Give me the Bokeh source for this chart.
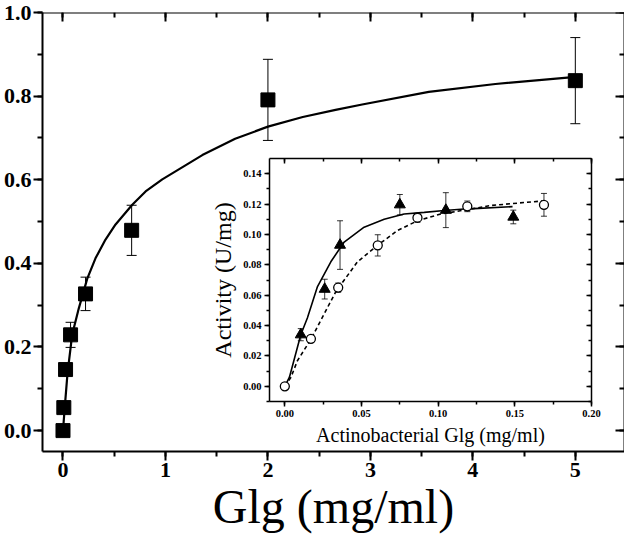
from bokeh.plotting import figure
from bokeh.models import (ColumnDataSource, Whisker, TeeHead, LinearAxis,
                          SingleIntervalTicker, NumeralTickFormatter, Range1d,
                          CustomJSTickFormatter)
from bokeh.embed import file_html
from bokeh.resources import INLINE

# ---------------- main panel data ----------------
glg_conc = [0.0, 0.008, 0.025, 0.074, 0.22, 0.67, 2.0, 5.0]
activity = [0.0, 0.055, 0.146, 0.229, 0.327, 0.479, 0.791, 0.837]
activity_err = [0.0, 0.006, 0.008, 0.03, 0.04, 0.06, 0.097, 0.103]

fit_x = [0.0, 0.018, 0.044, 0.09, 0.155, 0.236, 0.317, 0.415, 0.513, 0.676, 0.806,
         0.969, 1.36, 1.68, 2.0, 2.34, 2.66, 2.92, 3.57, 4.22, 4.95]
fit_y = [0.0, 0.058, 0.137, 0.230, 0.293, 0.363, 0.412, 0.457, 0.493, 0.540, 0.572,
         0.601, 0.659, 0.698, 0.727, 0.750, 0.767, 0.780, 0.810, 0.829, 0.845]

# ---------------- inset data ----------------
tri_x = [0.0104, 0.026, 0.036, 0.075, 0.105, 0.149]
tri_y = [0.034, 0.064, 0.093, 0.1196, 0.116, 0.1115]
tri_err = [0.004, 0.0065, 0.016, 0.0067, 0.0115, 0.0045]

circ_x = [0.0, 0.017, 0.0348, 0.0606, 0.0865, 0.119, 0.169]
circ_y = [0.0, 0.0313, 0.065, 0.0928, 0.111, 0.1185, 0.1195]
circ_err = [0.0, 0.002, 0.003, 0.007, 0.003, 0.0035, 0.0075]

solid_x = [0.0, 0.003, 0.0104, 0.0147, 0.0213, 0.030, 0.0387, 0.0517, 0.0648,
           0.0778, 0.0909, 0.104, 0.117, 0.1235, 0.1485]
solid_y = [0.0, 0.006, 0.034, 0.045, 0.0657, 0.082, 0.095, 0.1048, 0.110,
           0.1135, 0.1145, 0.1158, 0.1167, 0.117, 0.1183]

dash_x = [0.0, 0.004, 0.0082, 0.017, 0.0333, 0.0474, 0.0604, 0.0735, 0.0865,
          0.1018, 0.117, 0.134, 0.156, 0.17]
dash_y = [0.0, 0.006, 0.0168, 0.031, 0.0624, 0.082, 0.0928, 0.1026, 0.109,
          0.1135, 0.116, 0.119, 0.121, 0.1222]

SERIF = "Liberation Serif"

# ---------------- layout (pixels) ----------------
FRAME_W, FRAME_H = 582, 439
TOP_BORDER = 12
X0, X1 = -0.2, 5.48
Y0, Y1 = -0.05, 1.0
# inset box inside the main frame (pixels from frame left / top)
IN_L, IN_R, IN_T, IN_B = 227, 549, 146, 389
IX0, IX1 = -0.01, 0.2
IY0, IY1 = -0.01, 0.15

ixs = (IX1 - IX0) / (IN_R - IN_L)
iys = (IY1 - IY0) / (IN_B - IN_T)
ix_range = Range1d(IX0 - IN_L * ixs, IX1 + (FRAME_W - IN_R) * ixs)
iy_range = Range1d(IY0 - (FRAME_H - IN_B) * iys, IY1 + IN_T * iys)

# ================= figure =================
p = figure(frame_width=FRAME_W, frame_height=FRAME_H,
           x_range=Range1d(X0, X1), y_range=Range1d(Y0, Y1),
           output_backend="svg", toolbar_location=None,
           min_border_left=39, min_border_right=0, min_border_top=TOP_BORDER,
           min_border_bottom=0)
p.extra_x_ranges = {"ix": ix_range}
p.extra_y_ranges = {"iy": iy_range}
p.xgrid.visible = False
p.ygrid.visible = False
p.outline_line_color = None
p.background_fill_color = "white"
p.border_fill_color = "white"

blank = CustomJSTickFormatter(code="return ''")

xt = SingleIntervalTicker(interval=1, num_minor_ticks=2)
yt = SingleIntervalTicker(interval=0.2, num_minor_ticks=2)

xa = p.xaxis[0]
ya = p.yaxis[0]
xa.ticker = xt
xa.formatter = NumeralTickFormatter(format="0")
xa.axis_label = "Glg (mg/ml)"
ya.ticker = yt
ya.formatter = NumeralTickFormatter(format="0.0")

for ax in (xa, ya):
    ax.axis_line_width = 2
    ax.axis_line_color = "black"
    ax.major_tick_line_width = 2
    ax.minor_tick_line_width = 2
    ax.major_tick_out = 9
    ax.major_tick_in = 0
    ax.minor_tick_out = 5
    ax.minor_tick_in = 0
    ax.major_label_text_font = SERIF
    ax.major_label_text_font_style = "bold"
    ax.major_label_text_font_size = "22px"
    ax.major_label_text_color = "black"
    ax.major_label_standoff = 2
    ax.axis_label_text_font = SERIF
    ax.axis_label_text_font_style = "normal"
    ax.axis_label_text_font_size = "48px"
    ax.axis_label_text_color = "black"
xa.axis_label_standoff = 0

top_ax = LinearAxis(ticker=xt, formatter=blank, fixed_location=Y1,
                    major_tick_in=9, major_tick_out=0, minor_tick_in=5, minor_tick_out=0)
right_ax = LinearAxis(ticker=yt, formatter=blank, fixed_location=X1,
                      major_tick_in=9, major_tick_out=0, minor_tick_in=5, minor_tick_out=0)
for ax in (top_ax, right_ax):
    ax.axis_line_width = 2
    ax.major_tick_line_width = 2
    ax.minor_tick_line_width = 2
p.add_layout(top_ax, "above")
p.add_layout(right_ax, "right")

src_main = ColumnDataSource(dict(
    x=glg_conc, y=activity,
    up=[a + e for a, e in zip(activity, activity_err)],
    lo=[a - e for a, e in zip(activity, activity_err)]))
p.add_layout(Whisker(source=src_main, base="x", upper="up", lower="lo", dimension="height",
                     line_color="black", line_width=1,
                     upper_head=TeeHead(size=10, line_width=1, line_color="black"),
                     lower_head=TeeHead(size=10, line_width=1, line_color="black")))
p.line(fit_x, fit_y, line_color="black", line_width=2.2, line_join="round")
p.scatter("x", "y", source=src_main, marker="square", size=14,
          fill_color="black", line_color="black")

# ================= inset (own ranges and axes) =================
ixt = SingleIntervalTicker(interval=0.05, num_minor_ticks=2)
iyt = SingleIntervalTicker(interval=0.02, num_minor_ticks=2)

ib = LinearAxis(x_range_name="ix", y_range_name="iy", fixed_location=IY0, bounds=(IX0, IX1),
                ticker=ixt, formatter=NumeralTickFormatter(format="0.00"),
                axis_label="Actinobacterial Glg (mg/ml)")
il = LinearAxis(x_range_name="ix", y_range_name="iy", fixed_location=IX0, bounds=(IY0, IY1),
                ticker=iyt, formatter=NumeralTickFormatter(format="0.00"),
                axis_label="Activity (U/mg)")
for ax in (ib, il):
    ax.axis_line_width = 1.5
    ax.major_tick_line_width = 1.5
    ax.minor_tick_line_width = 1.5
    ax.major_tick_out = 5
    ax.major_tick_in = 0
    ax.minor_tick_out = 3
    ax.minor_tick_in = 0
    ax.major_label_text_font = SERIF
    ax.major_label_text_font_style = "bold"
    ax.major_label_text_font_size = "10.5px"
    ax.major_label_text_color = "black"
    ax.major_label_standoff = 3
    ax.axis_label_text_font = SERIF
    ax.axis_label_text_font_style = "normal"
    ax.axis_label_text_color = "black"
    ax.axis_label_standoff = 4
ib.axis_label_text_font_size = "20px"
il.axis_label_text_font_size = "24px"

it = LinearAxis(x_range_name="ix", y_range_name="iy", fixed_location=IY1, bounds=(IX0, IX1),
                ticker=ixt, formatter=blank,
                major_tick_in=5, major_tick_out=0, minor_tick_in=3, minor_tick_out=0)
ir = LinearAxis(x_range_name="ix", y_range_name="iy", fixed_location=IX1, bounds=(IY0, IY1),
                ticker=iyt, formatter=blank,
                major_tick_in=5, major_tick_out=0, minor_tick_in=3, minor_tick_out=0)
for ax in (it, ir):
    ax.axis_line_width = 1.5
    ax.major_tick_line_width = 1.5
    ax.minor_tick_line_width = 1.5

p.add_layout(ib, "below")
p.add_layout(il, "left")
p.add_layout(it, "above")
p.add_layout(ir, "right")

src_tri = ColumnDataSource(dict(
    x=tri_x, y=tri_y,
    up=[a + e for a, e in zip(tri_y, tri_err)],
    lo=[a - e for a, e in zip(tri_y, tri_err)]))
src_circ = ColumnDataSource(dict(
    x=circ_x, y=circ_y,
    up=[a + e for a, e in zip(circ_y, circ_err)],
    lo=[a - e for a, e in zip(circ_y, circ_err)]))
for s in (src_tri, src_circ):
    p.add_layout(Whisker(source=s, base="x", upper="up", lower="lo", dimension="height",
                         x_range_name="ix", y_range_name="iy",
                         line_color="black", line_width=0.8,
                         upper_head=TeeHead(size=6, line_width=0.8, line_color="black"),
                         lower_head=TeeHead(size=6, line_width=0.8, line_color="black")))

p.line(solid_x, solid_y, line_color="black", line_width=1.6, line_join="round",
       x_range_name="ix", y_range_name="iy")
p.line(dash_x, dash_y, line_color="black", line_width=1.6, line_dash="4 3",
       x_range_name="ix", y_range_name="iy")
p.scatter("x", "y", source=src_tri, marker="triangle", size=11,
          fill_color="black", line_color="black", x_range_name="ix", y_range_name="iy")
p.scatter("x", "y", source=src_circ, marker="circle", size=9,
          fill_color="white", line_color="black", line_width=1.3,
          x_range_name="ix", y_range_name="iy")

open("out.html", "w").write(file_html(p, INLINE))
